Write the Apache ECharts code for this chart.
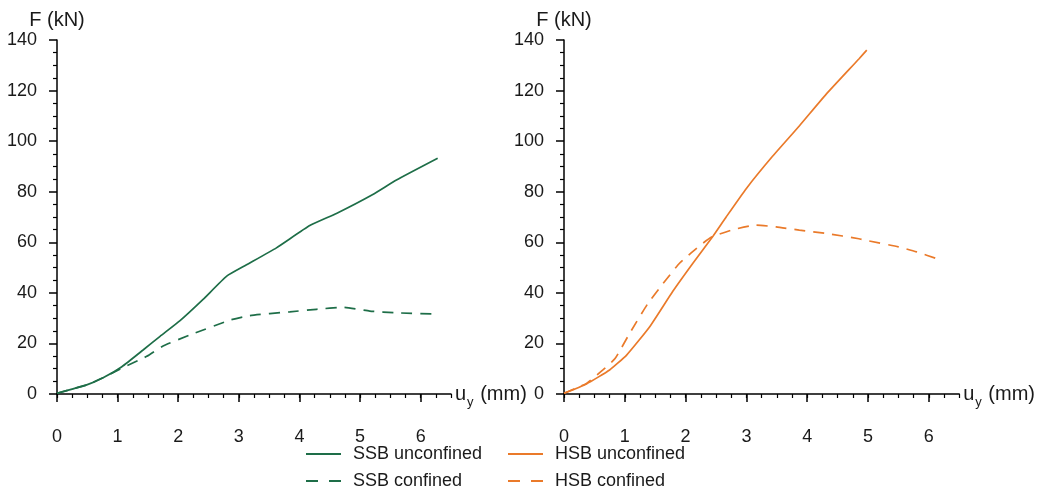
<!DOCTYPE html>
<html>
<head>
<meta charset="utf-8">
<script src="https://cdn.jsdelivr.net/npm/echarts@6/dist/echarts.min.js"></script>
<style>
  html, body { margin: 0; padding: 0; background: #fff; }
  #main { width: 1038px; height: 489px; }
</style>
</head>
<body>
<div id="main"></div>
<script>
// values: [u_y (mm), F (kN)]
const ssbUnconfined = [
  [0, 0.3], [0.49, 3.6], [0.76, 6.4], [1.07, 10.8], [1.42, 17.4], [1.70, 22.8],
  [2.03, 29.0], [2.41, 37.4], [2.80, 46.6], [3.12, 51.0], [3.62, 57.8],
  [4.17, 66.6], [4.61, 71.4], [5.21, 78.9], [5.60, 84.6], [6.28, 93.2]
];
const ssbConfined = [
  [0, 0.3], [0.49, 3.6], [0.76, 6.4], [1.07, 10.2], [1.48, 14.9], [1.75, 19.0],
  [2.19, 23.3], [2.85, 29.2], [3.18, 31.0], [3.84, 32.5], [4.28, 33.5],
  [4.72, 34.3], [5.16, 32.8], [5.60, 32.1], [6.28, 31.6]
];
const hsbUnconfined = [
  [0, 0.3], [0.37, 4.0], [0.75, 9.5], [1.03, 15.4], [1.41, 26.6], [1.79, 40.6],
  [2.12, 51.7], [2.45, 62.4], [2.67, 70.1], [3.00, 81.3], [3.43, 94.0],
  [3.87, 106.0], [4.31, 118.5], [4.85, 132.5], [4.98, 136.0]
];
const hsbConfined = [
  [0, 0.3], [0.37, 4.2], [0.64, 9.5], [0.84, 14.0], [1.08, 24.0], [1.38, 35.8],
  [1.63, 43.7], [1.90, 51.7], [2.18, 57.6], [2.42, 62.0], [2.78, 65.0],
  [3.16, 66.8], [3.49, 66.1], [3.87, 64.8], [4.31, 63.5], [4.85, 61.4],
  [5.00, 60.6], [5.50, 58.2], [5.80, 56.2], [6.16, 53.3]
];
const xTickValues = [0, 1, 2, 3, 4, 5, 6];

const green = '#1e6e48';
const orange = '#ea7a2a';
const font = 'Liberation Sans, Arial, sans-serif';
const textColor = '#1a1a1a';

const chart = echarts.init(document.getElementById('main'));

function mainX(gridIndex) {
  return {
    type: 'value', gridIndex: gridIndex, position: 'bottom',
    min: 0, max: 6.5, interval: 1,
    name: '{u|u}{s|y}{u| (mm)}',
    nameLocation: 'end', nameGap: 4,
    nameTextStyle: {
      fontFamily: font, color: textColor,
      rich: {
        u: { fontSize: 20, fontFamily: font, color: textColor, verticalAlign: 'middle' },
        s: { fontSize: 13, fontFamily: font, color: textColor, padding: [16, 1, 0, 1], verticalAlign: 'middle' }
      }
    },
    axisLine: { onZero: false, lineStyle: { color: '#000', width: 1.5 } },
    axisTick: { customValues: xTickValues, length: 8, lineStyle: { color: '#000', width: 1.5 } },
    axisLabel: { customValues: xTickValues, margin: 34, fontSize: 18, fontFamily: font, color: textColor },
    splitLine: { show: false }
  };
}
function minorX(gridIndex) {
  return {
    type: 'value', gridIndex: gridIndex, position: 'bottom',
    min: 0, max: 6.5, interval: 0.25,
    axisLine: { show: false },
    axisTick: { length: 4, lineStyle: { color: '#000', width: 1.2 } },
    axisLabel: { show: false },
    splitLine: { show: false }
  };
}
function yAx(gridIndex) {
  return {
    type: 'value', gridIndex: gridIndex,
    min: 0, max: 140, interval: 20,
    name: 'F (kN)', nameLocation: 'end', nameGap: 10,
    nameTextStyle: { fontSize: 20, fontFamily: font, color: textColor, align: 'center' },
    axisLine: { show: true, lineStyle: { color: '#000', width: 1.5 } },
    axisTick: { show: true, length: 8, lineStyle: { color: '#000', width: 1.5 } },
    minorTick: { show: true, splitNumber: 4, length: 4, lineStyle: { color: '#000', width: 1.2 } },
    axisLabel: { margin: 20, fontSize: 18, fontFamily: font, color: textColor },
    splitLine: { show: false },
    minorSplitLine: { show: false }
  };
}
function lineSeries(name, data, xIdx, yIdx, color, dashed) {
  return {
    name: name, type: 'line', data: data,
    xAxisIndex: xIdx, yAxisIndex: yIdx,
    smooth: 0.15, showSymbol: false, symbol: 'none',
    lineStyle: { color: color, width: 1.7, type: dashed ? [11, 8] : 'solid' },
    itemStyle: { color: color },
    z: dashed ? 2 : 3
  };
}
// one legend per entry, so the two columns line up like the original
function legendItem(left, top, name, dashed) {
  const lg = {
    left: left, top: top, padding: 0,
    itemWidth: 35, itemHeight: 14,
    itemStyle: { opacity: 0, borderWidth: 0 },
    textStyle: { fontSize: 18, fontFamily: font, color: textColor, padding: [0, 0, 0, 7] },
    data: [name]
  };
  if (dashed) lg.lineStyle = { type: [12, 11] };
  return lg;
}

chart.setOption({
  animation: false,
  grid: [
    { left: 57, top: 40, width: 394, height: 354 },
    { left: 564, top: 40, width: 397, height: 354 }
  ],
  xAxis: [mainX(0), minorX(0), mainX(1), minorX(1)],
  yAxis: [yAx(0), yAx(1)],
  legend: [
    legendItem(305, 445, 'SSB unconfined', false),
    legendItem(305, 472, 'SSB confined', true),
    legendItem(507, 445, 'HSB unconfined', false),
    legendItem(507, 472, 'HSB confined', true)
  ],
  series: [
    lineSeries('SSB unconfined', ssbUnconfined, 0, 0, green, false),
    lineSeries('SSB confined', ssbConfined, 0, 0, green, true),
    lineSeries('HSB unconfined', hsbUnconfined, 2, 1, orange, false),
    lineSeries('HSB confined', hsbConfined, 2, 1, orange, true)
  ]
});

window.addEventListener('resize', function() {
  chart.resize();
});
</script>
</body>
</html>
